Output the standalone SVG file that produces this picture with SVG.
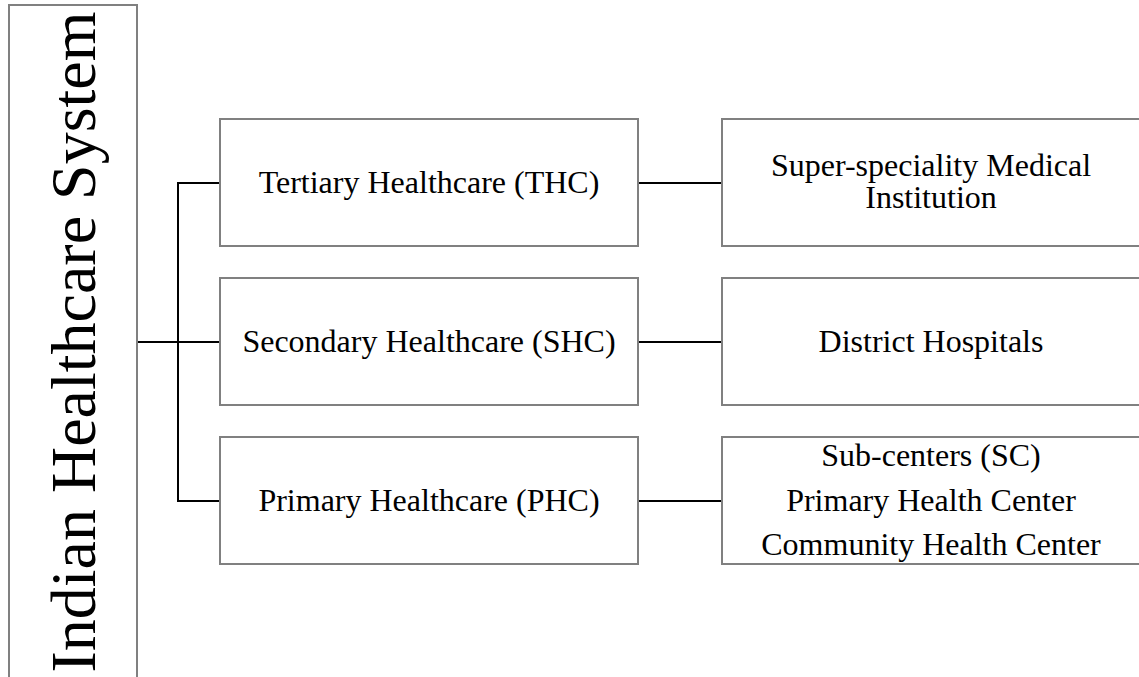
<svg xmlns="http://www.w3.org/2000/svg" width="1139" height="677" viewBox="0 0 1139 677">
<style>
.box{fill:#ffffff;stroke:#808080;stroke-width:2}
.lbl{font-family:"Liberation Serif","Times New Roman",serif;font-size:32px;fill:#000;text-anchor:middle}
.title{font-family:"Liberation Serif","Times New Roman",serif;font-size:64px;fill:#000;text-anchor:middle}
.conn{stroke:#000;stroke-width:2;fill:none}
</style>
<rect width="1139" height="677" fill="#ffffff"/>
<g id="connectors">
<line class="conn" x1="137" y1="342" x2="178" y2="342"/>
<line class="conn" x1="178" y1="183" x2="178" y2="501"/>
<line class="conn" x1="177" y1="183" x2="220" y2="183"/>
<line class="conn" x1="178" y1="342" x2="220" y2="342"/>
<line class="conn" x1="177" y1="501" x2="220" y2="501"/>
<line class="conn" x1="638" y1="183" x2="722" y2="183"/>
<line class="conn" x1="638" y1="342" x2="722" y2="342"/>
<line class="conn" x1="638" y1="501" x2="722" y2="501"/>
</g>
<g id="root">
<rect class="box" x="9" y="5" width="128" height="674"/>
<text class="title" transform="translate(95,342) rotate(-90)">Indian Healthcare System</text>
</g>
<g id="thc">
<rect class="box" x="220" y="119" width="418" height="127"/>
<text class="lbl" x="429" y="193">Tertiary Healthcare (THC)</text>
</g>
<g id="shc">
<rect class="box" x="220" y="278" width="418" height="127"/>
<text class="lbl" x="429" y="352">Secondary Healthcare (SHC)</text>
</g>
<g id="phc">
<rect class="box" x="220" y="437" width="418" height="127"/>
<text class="lbl" x="429" y="511">Primary Healthcare (PHC)</text>
</g>
<g id="super">
<rect class="box" x="722" y="119" width="418" height="127"/>
<text class="lbl" x="931" y="176">Super-speciality Medical</text>
<text class="lbl" x="931" y="208">Institution</text>
</g>
<g id="district">
<rect class="box" x="722" y="278" width="418" height="127"/>
<text class="lbl" x="931" y="352">District Hospitals</text>
</g>
<g id="primary-units">
<rect class="box" x="722" y="437" width="418" height="127"/>
<text class="lbl" x="931" y="466">Sub-centers (SC)</text>
<text class="lbl" x="931" y="511">Primary Health Center</text>
<text class="lbl" x="931" y="555">Community Health Center</text>
</g>
</svg>
